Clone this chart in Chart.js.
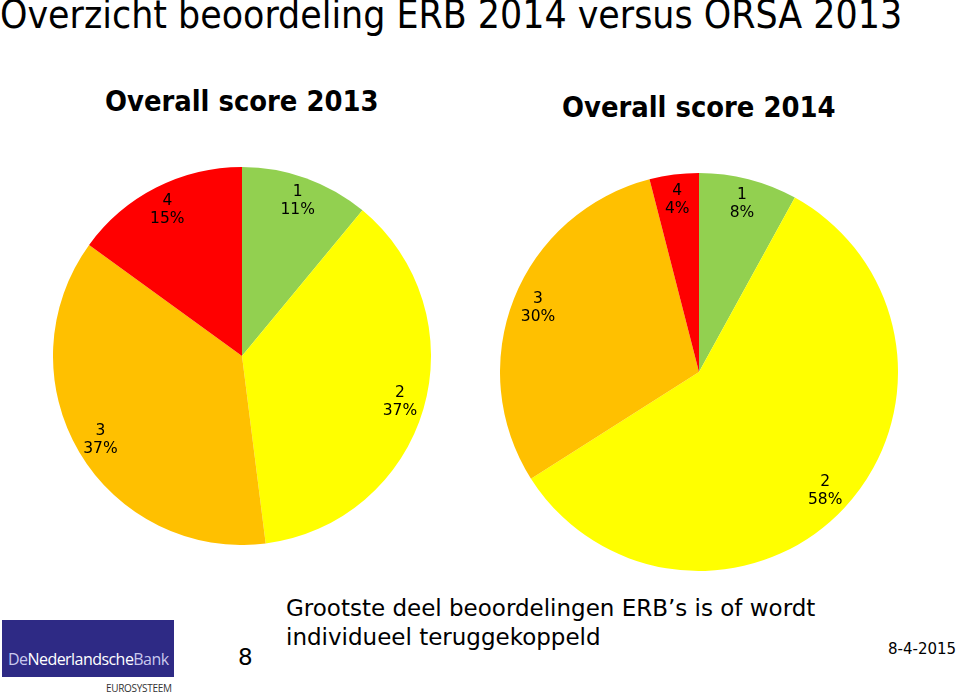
<!DOCTYPE html>
<html>
<head>
<meta charset="utf-8">
<script src="https://cdn.jsdelivr.net/npm/chart.js@4"></script>
<style>
  body { margin: 0; background: #fff; width: 960px; height: 697px; overflow: hidden; position: relative; font-family: "DejaVu Sans", Verdana, sans-serif; }
  .abs { position: absolute; white-space: nowrap; }
  #title { left: 0; top: -8px; font-family: "DejaVu Sans Condensed", "DejaVu Sans", sans-serif; font-size: 38.8px; color: #000; }
  .pieTitle { font-family: "DejaVu Sans Condensed", "DejaVu Sans", sans-serif; font-weight: bold; font-size: 28.8px; color: #000; }
  #t2013 { left: 105px; top: 84px; }
  #t2014 { left: 562px; top: 90px; }
  #c2013 { position: absolute; left: 53px; top: 167px; }
  #c2014 { position: absolute; left: 500px; top: 173px; }
  #logo { left: 2px; top: 620px; width: 172px; height: 57px; background: #2e2a85; }
  #logoText { left: 8px; top: 648px; font-family: "Open Sans", "Noto Sans", sans-serif; font-size: 16px; color: #fff; letter-spacing: -0.55px; }
  #logoText span { color: #c9c8ee; }
  #euro { left: 106px; top: 681px; font-family: "Open Sans", "Noto Sans", sans-serif; font-size: 10px; color: #333; letter-spacing: -0.3px; }
  #page { left: 238px; top: 644px; font-size: 23px; }
  #note { left: 286px; top: 594px; font-size: 23px; line-height: 29px; color: #000; }
  #date { left: 888px; top: 640px; font-size: 15px; }
</style>
</head>
<body>
<div id="title" class="abs">Overzicht beoordeling ERB 2014 versus ORSA 2013</div>
<div id="t2013" class="abs pieTitle">Overall score 2013</div>
<div id="t2014" class="abs pieTitle">Overall score 2014</div>
<canvas id="c2013" width="378" height="378"></canvas>
<canvas id="c2014" width="398" height="398"></canvas>
<div id="logo" class="abs"></div>
<div id="logoText" class="abs"><span>De</span>Nederlandsche<span>Bank</span></div>
<div id="euro" class="abs">EUROSYSTEEM</div>
<div id="page" class="abs">8</div>
<div id="note" class="abs">Grootste deel beoordelingen ERB’s is of wordt<br>individueel teruggekoppeld</div>
<div id="date" class="abs">8-4-2015</div>
<script>
var scores = ["1", "2", "3", "4"];
var share2013 = [11, 37, 37, 15];
var share2014 = [8, 58, 30, 4];
var scoreColors = ["#92d050", "#ffff00", "#ffc000", "#ff0000"];

// score + percentage, placed inside each slice
var sliceLabels = {
  id: "sliceLabels",
  afterDatasetsDraw: function (chart) {
    var ctx = chart.ctx;
    var data = chart.data.datasets[0].data;
    ctx.save();
    ctx.font = "15.5px 'DejaVu Sans', Verdana, sans-serif";
    ctx.fillStyle = "#000";
    ctx.textAlign = "center";
    ctx.textBaseline = "middle";
    chart.getDatasetMeta(0).data.forEach(function (arc, i) {
      var p = arc.getProps(["x", "y", "startAngle", "endAngle", "outerRadius"], true);
      var mid = (p.startAngle + p.endAngle) / 2;
      var r = p.outerRadius * 0.87;
      var x = p.x + Math.cos(mid) * r;
      var y = p.y + Math.sin(mid) * r;
      ctx.fillText(chart.data.labels[i], x, y - 9);
      ctx.fillText(data[i] + "%", x, y + 9);
    });
    ctx.restore();
  }
};

var pie = function (canvasId, values) {
  return new Chart(document.getElementById(canvasId), {
    type: "pie",
    data: {
      labels: scores,
      datasets: [{ data: values, backgroundColor: scoreColors, borderWidth: 0 }]
    },
    options: {
      responsive: false,
      animation: false,
      layout: { padding: 0 },
      plugins: { legend: { display: false }, tooltip: { enabled: false } }
    },
    plugins: [sliceLabels]
  });
};

pie("c2013", share2013);
pie("c2014", share2014);
</script>
</body>
</html>
